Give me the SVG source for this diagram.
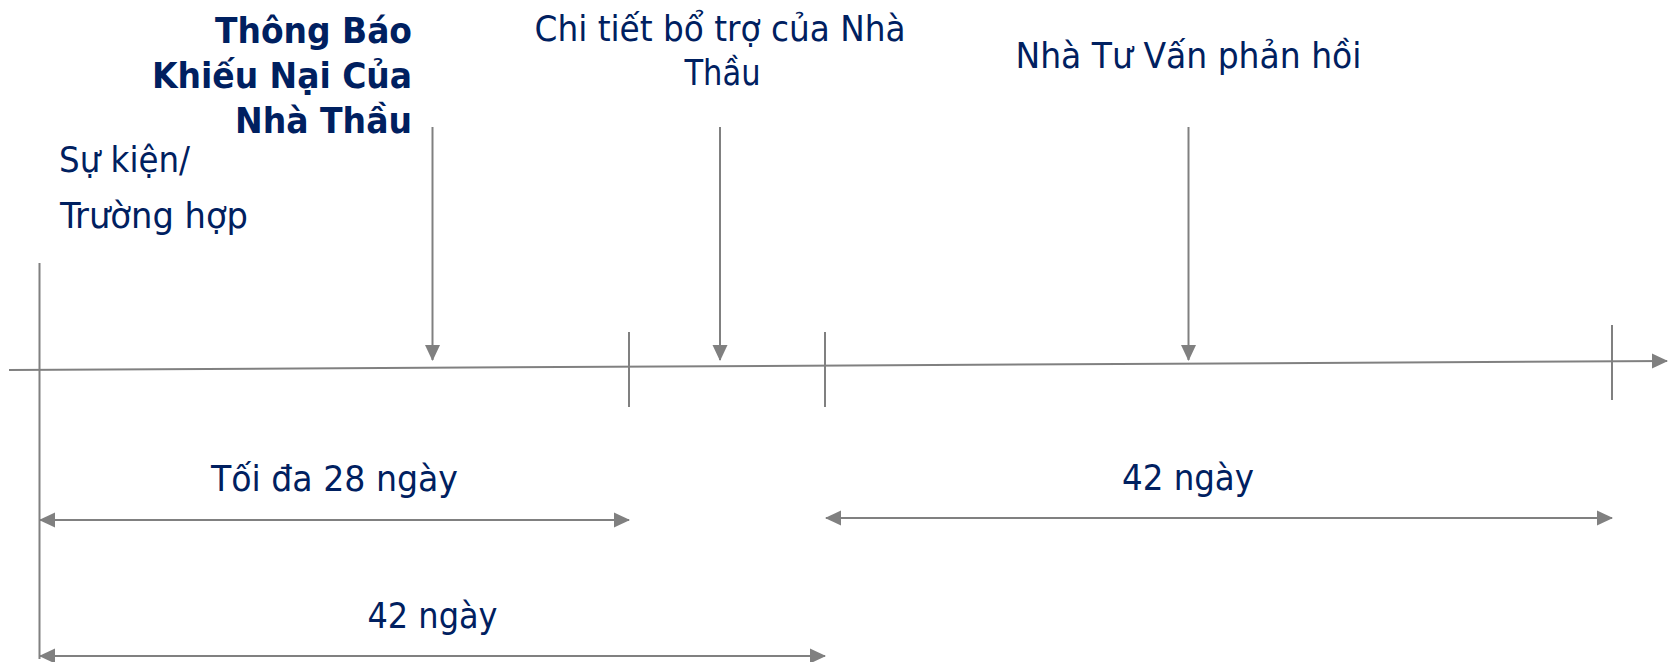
<svg xmlns="http://www.w3.org/2000/svg" width="1671" height="662" viewBox="0 0 1671 662">
<style>
.ln{stroke:#808080;stroke-width:2;fill:none}
.t{font-family:"DejaVu Sans Condensed","DejaVu Sans",sans-serif;font-size:35px;fill:#002060}
.b{font-weight:bold}
</style>
<defs>
<marker id="ah" viewBox="0 0 16 16" refX="15" refY="8" markerWidth="16" markerHeight="16" markerUnits="userSpaceOnUse" orient="auto-start-reverse">
<path d="M0,0.5 L16,8 L0,15.5 z" fill="#808080"/>
</marker>
</defs>
<rect width="1671" height="662" fill="#ffffff"/>
<g id="connectors">
<line class="ln" x1="9" y1="370" x2="1667" y2="361" marker-end="url(#ah)"/>
<line class="ln" x1="39.5" y1="263" x2="39.5" y2="659"/>
<line class="ln" x1="629" y1="332" x2="629" y2="407"/>
<line class="ln" x1="825" y1="332" x2="825" y2="407"/>
<line class="ln" x1="1612" y1="325" x2="1612" y2="400"/>
<line class="ln" x1="432.5" y1="127" x2="432.5" y2="360" marker-end="url(#ah)"/>
<line class="ln" x1="720" y1="127" x2="720" y2="360" marker-end="url(#ah)"/>
<line class="ln" x1="1188.5" y1="127" x2="1188.5" y2="360" marker-end="url(#ah)"/>
<line class="ln" x1="40" y1="520" x2="629" y2="520" marker-start="url(#ah)" marker-end="url(#ah)"/>
<line class="ln" x1="40" y1="656" x2="825" y2="656" marker-start="url(#ah)" marker-end="url(#ah)"/>
<line class="ln" x1="826" y1="518" x2="1612" y2="518" marker-start="url(#ah)" marker-end="url(#ah)"/>
</g>
<g id="node-thongbao">
<text class="t b" x="412" y="43" text-anchor="end" textLength="197" lengthAdjust="spacingAndGlyphs">Thông Báo</text>
<text class="t b" x="412" y="88" text-anchor="end" textLength="260" lengthAdjust="spacingAndGlyphs">Khiếu Nại Của</text>
<text class="t b" x="412" y="133" text-anchor="end" textLength="177" lengthAdjust="spacingAndGlyphs">Nhà Thầu</text>
</g>
<g id="node-sukien">
<text class="t" x="59" y="172" textLength="131" lengthAdjust="spacingAndGlyphs">Sự kiện/</text>
<text class="t" x="60" y="228" textLength="188" lengthAdjust="spacingAndGlyphs">Trường hợp</text>
</g>
<g id="node-chitiet">
<text class="t" x="534.5" y="41" textLength="371" lengthAdjust="spacingAndGlyphs">Chi tiết bổ trợ của Nhà</text>
<text class="t" x="684.5" y="85" textLength="76" lengthAdjust="spacingAndGlyphs">Thầu</text>
</g>
<g id="node-tuvan">
<text class="t" x="1015.5" y="68" textLength="346" lengthAdjust="spacingAndGlyphs">Nhà Tư Vấn phản hồi</text>
</g>
<g id="label-28">
<text class="t" x="211" y="491" textLength="247" lengthAdjust="spacingAndGlyphs">Tối đa 28 ngày</text>
</g>
<g id="label-42a">
<text class="t" x="367.5" y="628" textLength="130" lengthAdjust="spacingAndGlyphs">42 ngày</text>
</g>
<g id="label-42b">
<text class="t" x="1122" y="490" textLength="132" lengthAdjust="spacingAndGlyphs">42 ngày</text>
</g>
</svg>
